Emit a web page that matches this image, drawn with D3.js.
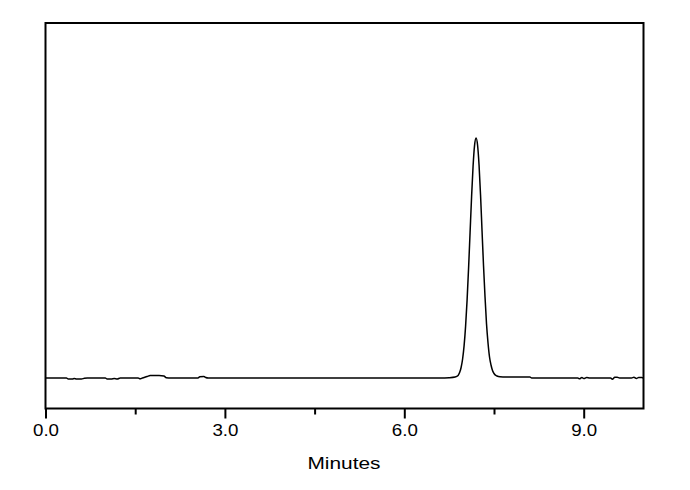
<!DOCTYPE html>
<html>
<head>
<meta charset="utf-8">
<script src="https://cdn.jsdelivr.net/npm/d3@7"></script>
<style>
  html, body { margin: 0; padding: 0; background: #fff; }
  svg { display: block; }
</style>
</head>
<body>
<svg id="chart" width="690" height="490"></svg>
<script>
// ---- data ----
const time = [
  0.00, 0.35, 0.38, 0.45, 0.48, 0.52, 0.60, 0.65, 0.70, 1.00, 1.03, 1.10, 1.15, 1.20, 1.25,
  1.55, 1.58, 1.62, 1.70, 1.75, 1.90, 1.98, 2.02, 2.10, 2.55, 2.58, 2.65, 2.68, 2.72,
  6.60, 6.75, 6.85, 6.90, 6.925, 6.95, 6.975, 7.00, 7.025, 7.05, 7.075, 7.10, 7.125, 7.15, 7.175,
  7.20, 7.225, 7.25, 7.275, 7.30, 7.325, 7.35, 7.375, 7.40, 7.425, 7.45, 7.475, 7.50, 7.55, 7.60, 7.70,
  8.10, 8.13, 8.90, 8.93, 8.97, 9.00, 9.05, 9.10, 9.45, 9.48, 9.52, 9.56, 9.60, 9.80, 9.84, 9.88, 9.92, 9.97, 10.00
];
const signal = [
  0, 0, -1, -1, -0.5, -1, -1, -0.3, 0, 0, -1, -1, -0.5, -1, 0,
  0, -0.8, 0, 1.5, 2.5, 2.5, 2, 0.3, 0, 0, 1.2, 1.5, 0.5, 0,
  0, 0.3, 1, 2.6, 5.4, 10.5, 19, 32.4, 51.9, 77.9, 110, 145.6, 181, 211.7, 232.6,
  240, 233, 213, 183, 147, 112, 81, 54, 35, 21, 13, 7.5, 4.5, 2, 1.2, 1,
  1, 0, 0, -0.8, 0.6, -0.6, 0.5, 0, 0, -1.2, 0.8, 0.8, 0, 0, 0.7, -0.6, 0.6, 0.5, 0
];
const xTicks = [0, 1.5, 3, 4.5, 6, 7.5, 9];
const xTickLabels = ["0.0", "", "3.0", "", "6.0", "", "9.0"];
const xLabel = "Minutes";

// ---- layout ----
const svg = d3.select("#chart");
const L = 45.5, R = 643.5, T = 23, B = 408.5;
const FONT = "Liberation Sans, Arial, sans-serif";

const x = d3.scaleLinear().domain([0, 10]).range([L, R]);
const y = d3.scaleLinear().domain([-30.5, 355]).range([B, T]);

// frame
svg.append("rect")
  .attr("x", L).attr("y", T)
  .attr("width", R - L).attr("height", B - T)
  .attr("fill", "none").attr("stroke", "#000").attr("stroke-width", 2);

// x axis
const axis = d3.axisBottom(x)
  .tickValues(xTicks)
  .tickSize(0)
  .tickFormat((d, i) => xTickLabels[i]);
const gx = svg.append("g").attr("transform", `translate(0,${B})`).call(axis);
gx.select(".domain").remove();
gx.selectAll(".tick line")
  .attr("y2", (d, i) => xTickLabels[i] ? 10 : 6)
  .attr("stroke", "#000").attr("stroke-width", 2);
gx.selectAll(".tick text")
  .attr("y", 27.5).attr("dy", 0)
  .attr("font-family", FONT)
  .attr("font-size", 16).attr("fill", "#000")
  .attr("textLength", 26).attr("lengthAdjust", "spacingAndGlyphs");

svg.append("text")
  .attr("x", 344).attr("y", 469)
  .attr("text-anchor", "middle")
  .attr("font-family", FONT)
  .attr("font-size", 16).attr("fill", "#000")
  .attr("textLength", 73).attr("lengthAdjust", "spacingAndGlyphs")
  .text(xLabel);

// trace
const pts = time.map((t, i) => [t, signal[i]]);
const line = d3.line().x(d => x(d[0])).y(d => y(d[1])).curve(d3.curveMonotoneX);
svg.append("path")
  .datum(pts)
  .attr("d", line)
  .attr("fill", "none").attr("stroke", "#000").attr("stroke-width", 1.5)
  .attr("stroke-linejoin", "round");
</script>
</body>
</html>
